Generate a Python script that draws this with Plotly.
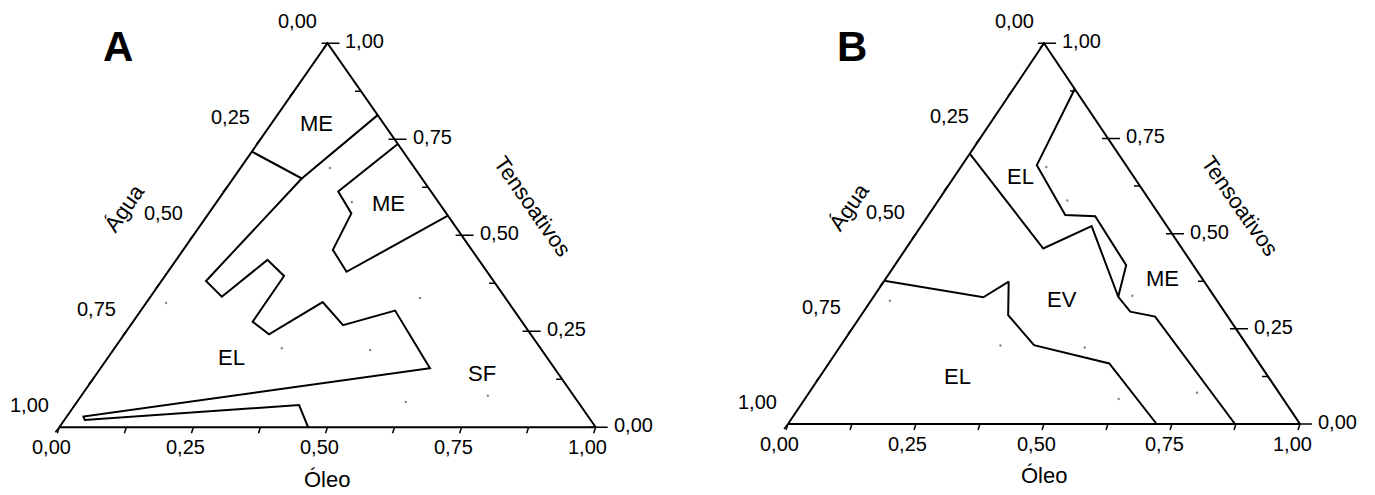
import plotly.graph_objects as go

# ---------------- data (ternary compositions) ----------------
# Each boundary is given as Tensoativos (T) and Óleo (O) fractions; Água = 1 - T - O
tick_values = [0.0, 0.25, 0.5, 0.75, 1.0]
tick_labels = ["0,00", "0,25", "0,50", "0,75", "1,00"]
minor_tick_values = [0.125, 0.375, 0.625, 0.875]

title_left = "Água"
title_bottom = "Óleo"
title_right = "Tensoativos"
panel_letters = ["A", "B"]

# experimental points (same grid in both diagrams)
points_T = [0.675, 0.587, 0.337, 0.206, 0.201, 0.324, 0.066, 0.082]
points_O = [0.167, 0.252, 0.504, 0.312, 0.479, 0.037, 0.613, 0.758]

# Panel A boundaries
a_me1_T = [0.718, 0.648, 0.813]
a_me1_O = [0.000, 0.128, 0.187]
a_me2_T = [0.738, 0.614, 0.557, 0.462, 0.405, 0.551]
a_me2_O = [0.262, 0.213, 0.266, 0.279, 0.333, 0.449]
a_sf_T = [0.648, 0.381, 0.340, 0.436, 0.394, 0.275, 0.242, 0.326, 0.266, 0.304,
          0.154, 0.028, 0.019, 0.058, 0.000]
a_sf_O = [0.128, 0.083, 0.133, 0.170, 0.222, 0.223, 0.270, 0.328, 0.396, 0.474,
          0.614, 0.031, 0.038, 0.418, 0.464]
a_region_labels = ["ME", "ME", "EL", "SF"]
a_region_T = [0.790, 0.584, 0.183, 0.141]
a_region_O = [0.084, 0.321, 0.229, 0.718]

# Panel B boundaries
b_l1_T = [0.710, 0.461, 0.520, 0.334, 0.295, 0.282, 0.000]
b_l1_O = [0.000, 0.268, 0.333, 0.478, 0.521, 0.576, 0.873]
b_l2_T = [0.880, 0.680, 0.549, 0.546, 0.417, 0.334]
b_l2_O = [0.120, 0.146, 0.267, 0.327, 0.452, 0.478]
b_l3_T = [0.376, 0.333, 0.374, 0.286, 0.207, 0.159, 0.000]
b_l3_O = [0.000, 0.215, 0.244, 0.287, 0.377, 0.548, 0.720]
b_region_labels = ["EL", "EV", "ME", "EL"]
b_region_T = [0.651, 0.328, 0.381, 0.126]
b_region_O = [0.128, 0.371, 0.541, 0.269]

# ---------------- layout constants ----------------
FIG_W, FIG_H = 1375, 495
OFF = 8.0  # page body margin compensation
PAD = 0.06
FONT = "Liberation Sans, Arial, sans-serif"
TICK_FS = 20
REGION_FS = 22
TITLE_FS = 22

panels = [
    dict(px=(59.3, 595.7), py=(43.3, 427.3),
         lines=[(a_me1_T, a_me1_O), (a_me2_T, a_me2_O), (a_sf_T, a_sf_O)],
         labels=(a_region_labels, a_region_T, a_region_O),
         letter_pos=(118, 46)),
    dict(px=(788.0, 1300.0), py=(43.3, 424.0),
         lines=[(b_l1_T, b_l1_O), (b_l2_T, b_l2_O), (b_l3_T, b_l3_O)],
         labels=(b_region_labels, b_region_T, b_region_O),
         letter_pos=(852, 47)),
]


def to_xy(T, O):
    """Ternary (Tensoativos, Óleo) -> unit-triangle cartesian coordinates."""
    xs = [o + t / 2.0 for t, o in zip(T, O)]
    ys = list(T)
    return xs, ys


fig = go.Figure()
annotations = []
layout_axes = {}

for i, p in enumerate(panels):
    sfx = "" if i == 0 else str(i + 1)
    xref, yref = "x" + sfx, "y" + sfx
    pxl, pxr = p["px"][0] - OFF, p["px"][1] - OFF
    pyt, pyb = p["py"][0] - OFF, p["py"][1] - OFF
    W = pxr - pxl
    H = pyb - pyt
    dx0 = (pxl - PAD * W) / FIG_W
    dx1 = (pxr + PAD * W) / FIG_W
    dy0 = 1 - (pyb + PAD * H) / FIG_H
    dy1 = 1 - (pyt - PAD * H) / FIG_H
    layout_axes["xaxis" + sfx] = dict(domain=[dx0, dx1], range=[-PAD, 1 + PAD],
                                      visible=False, fixedrange=True)
    layout_axes["yaxis" + sfx] = dict(domain=[dy0, dy1], range=[-PAD, 1 + PAD],
                                      visible=False, fixedrange=True, anchor=xref)

    # triangle frame (vertices: Água, Óleo, Tensoativos)
    fx, fy = to_xy([0, 0, 1, 0], [0, 1, 0, 0])
    fig.add_trace(go.Scatter(x=fx, y=fy, mode="lines", xaxis=xref, yaxis=yref,
                             line=dict(color="black", width=2), hoverinfo="skip",
                             showlegend=False))

    # tick marks
    tx, ty = [], []
    for v in tick_values + minor_tick_values:
        # left edge (Água = v)
        (x,), (y,) = to_xy([1 - v], [0])
        tx += [x, x - 4 / W, None]
        ty += [y, y - 5 / H, None]
        # bottom edge (Óleo = v)
        (x,), (y,) = to_xy([0], [v])
        tx += [x, x - 2 / W, None]
        ty += [y, y - 6 / H, None]
        # right edge (Tensoativos = v)
        (x,), (y,) = to_xy([v], [1 - v])
        tx += [x, x - 6 / W, None]
        ty += [y, y, None]
        if v in tick_values:
            tx += [x, x + 12 / W, None]
            ty += [y, y, None]
    fig.add_trace(go.Scatter(x=tx, y=ty, mode="lines", xaxis=xref, yaxis=yref,
                             line=dict(color="black", width=1.5), hoverinfo="skip",
                             showlegend=False))

    # tick labels
    for v, lab in zip(tick_values, tick_labels):
        (x,), (y,) = to_xy([1 - v], [0])
        annotations.append(dict(x=x, y=y, xref=xref, yref=yref, text=lab,
                                showarrow=False, xanchor="center", yanchor="middle",
                                xshift=-30, yshift=22,
                                font=dict(family=FONT, size=TICK_FS, color="black")))
        (x,), (y,) = to_xy([0], [v])
        annotations.append(dict(x=x, y=y, xref=xref, yref=yref, text=lab,
                                showarrow=False, xanchor="center", yanchor="middle",
                                xshift=-8, yshift=-20,
                                font=dict(family=FONT, size=TICK_FS, color="black")))
        (x,), (y,) = to_xy([v], [1 - v])
        annotations.append(dict(x=x, y=y, xref=xref, yref=yref, text=lab,
                                showarrow=False, xanchor="left", yanchor="middle",
                                xshift=16, yshift=2,
                                font=dict(family=FONT, size=TICK_FS, color="black")))

    # phase boundaries
    for T, O in p["lines"]:
        lx, ly = to_xy(T, O)
        fig.add_trace(go.Scatter(x=lx, y=ly, mode="lines", xaxis=xref, yaxis=yref,
                                 line=dict(color="black", width=2), hoverinfo="skip",
                                 showlegend=False))

    # experimental points (faint)
    ex, ey = to_xy(points_T, points_O)
    fig.add_trace(go.Scatter(x=ex, y=ey, mode="markers", xaxis=xref, yaxis=yref,
                             marker=dict(color="#888888", size=2.5), hoverinfo="skip",
                             showlegend=False))

    # region labels
    labs, LT, LO = p["labels"]
    rx, ry = to_xy(LT, LO)
    for lab, x, y in zip(labs, rx, ry):
        annotations.append(dict(x=x, y=y, xref=xref, yref=yref, text=lab,
                                showarrow=False, xanchor="center", yanchor="middle",
                                font=dict(family=FONT, size=REGION_FS, color="black")))

    # axis titles
    annotations.append(dict(x=0.12, y=0.571, xref=xref, yref=yref, text=title_left,
                            showarrow=False, textangle=-55,
                            font=dict(family=FONT, size=TITLE_FS, color="black")))
    annotations.append(dict(x=0.882, y=0.574, xref=xref, yref=yref, text=title_right,
                            showarrow=False, textangle=55,
                            font=dict(family=FONT, size=TITLE_FS, color="black")))
    annotations.append(dict(x=0.5, y=0, xref=xref, yref=yref, text=title_bottom,
                            showarrow=False, yanchor="middle", yshift=-52,
                            font=dict(family=FONT, size=TITLE_FS, color="black")))

    # panel letter
    lxp, lyp = p["letter_pos"]
    annotations.append(dict(x=(lxp - OFF) / FIG_W, y=1 - (lyp - OFF) / FIG_H,
                            xref="paper", yref="paper",
                            text="<b>" + panel_letters[i] + "</b>", showarrow=False,
                            xanchor="center", yanchor="middle",
                            font=dict(family=FONT, size=42, color="black")))

fig.update_layout(
    width=FIG_W, height=FIG_H,
    margin=dict(l=0, r=0, t=0, b=0),
    paper_bgcolor="white", plot_bgcolor="white",
    showlegend=False,
    annotations=annotations,
    **layout_axes,
)

fig.write_html("out.html")
